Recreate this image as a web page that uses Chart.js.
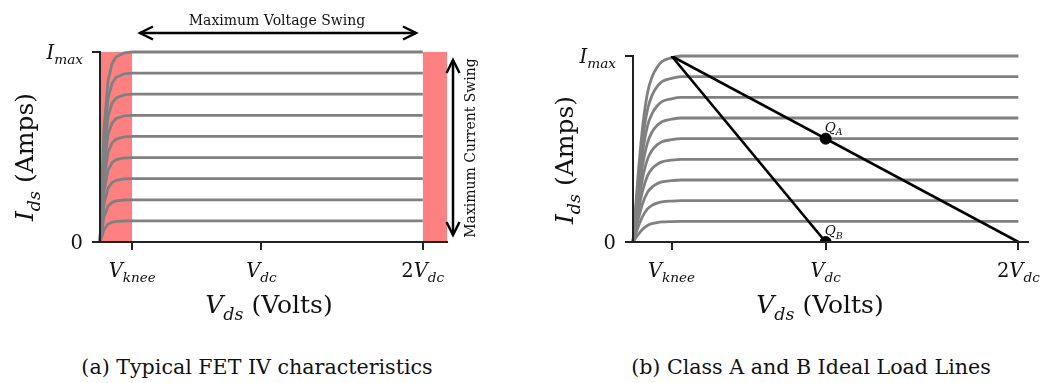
<!DOCTYPE html>
<html>
<head>
<meta charset="utf-8">
<script src="https://cdn.jsdelivr.net/npm/chart.js@4.4.1/dist/chart.umd.min.js"></script>
<style>
body{margin:0;background:#fff;width:1041px;height:383px;overflow:hidden;position:relative;}
.box{position:absolute;top:0;height:330px;}
#boxA{left:0;width:520px;}
#boxB{left:520px;width:521px;}
.cap{position:absolute;top:355px;font-family:'DejaVu Serif',serif;font-size:20.6px;color:#111;white-space:nowrap;transform:translateX(-50%);}
</style>
</head>
<body>
<div class="box" id="boxA"><canvas id="chartA"></canvas></div>
<div class="box" id="boxB"><canvas id="chartB"></canvas></div>
<div class="cap" style="left:257px">(a) Typical FET IV characteristics</div>
<div class="cap" style="left:811px">(b) Class A and B Ideal Load Lines</div>
<script>
// values in units of volts / amps steps (Vdc = 10, Imax = 9)
const ivLevels = [1, 2, 3, 4, 5, 6, 7, 8, 9];

// knee shape (fraction of the step current vs Vds)
const kneeVoltsA = [0, 0.25, 0.5, 0.75, 1, 1.5, 2, 20];
const kneeFracA  = [0, 0.6, 0.85, 0.94, 0.975, 0.995, 1, 1];
const kneeVoltsB = [0, 0.25, 0.5, 0.75, 1, 1.25, 1.5, 2, 2.5, 20];
const kneeFracB  = [0, 0.34, 0.62, 0.8, 0.89, 0.94, 0.97, 0.99, 1, 1];

const xTicks = [2, 10, 20];
const xTickLabels = [[['V','i'],['knee','s']], [['V','i'],['dc','s']], [['2','r'],['V','i'],['dc','s']]];
const yTicks = [0, 9];
const yTickLabels = [[['0','r']], [['I','i'],['max','s']]];

const lowBand = [0, 2];
const highBand = [20, 21.5];

const classA = [[2, 9], [20, 0]];
const classB = [[2, 9], [10, 0]];
const qA = [10, 5];
const qB = [10, 0];

const FONT = "'DejaVu Serif', serif";

function drawMath(ctx, parts, x, y, align, size){
    let pieces = parts.map(p => {
        let sub = p[1] === 's';
        let fs = sub ? size * 0.7 : size;
        let font = (p[1] === 'r' ? '' : 'italic ') + fs + 'px ' + FONT;
        ctx.font = font;
        return {t: p[0], font: font, w: ctx.measureText(p[0]).width, dy: sub ? size * 0.28 : 0};
    });
    let total = pieces.reduce((a, p) => a + p.w, 0);
    let sx = align === 'center' ? x - total / 2 : (align === 'right' ? x - total : x);
    ctx.textAlign = 'left';
    ctx.textBaseline = 'alphabetic';
    ctx.fillStyle = '#111';
    pieces.forEach(p => {
        ctx.font = p.font;
        ctx.fillText(p.t, sx, y + p.dy);
        sx += p.w;
    });
}

function ivDatasets(volts, frac, smooth){
    return ivLevels.map(lv => ({
        data: volts.map((v, i) => ({x: v, y: lv * frac[i]})),
        borderColor: '#808080',
        borderWidth: 2.8,
        pointRadius: 0,
        fill: false,
        tension: 0,
        clip: 4,
        cubicInterpolationMode: smooth ? 'monotone' : 'default'
    }));
}

function axisOpts(min, max, ticks){
    return {
        type: 'linear', min: min, max: max,
        afterBuildTicks: s => { s.ticks = ticks.map(v => ({value: v})); },
        ticks: {display: false},
        grid: {display: true, drawOnChartArea: false, drawTicks: true, tickLength: 8, color: '#222', lineWidth: 2, z: 1},
        border: {display: true, color: '#222', width: 2, z: 1}
    };
}

function labelsPlugin(o){
    return {
        id: 'labels' + o.id,
        afterDraw(chart){
            let ctx = chart.ctx;
            let xs = chart.scales.x, ys = chart.scales.y;
            let ca = chart.chartArea;
            ctx.save();
            xTicks.forEach((v, i) => {
                drawMath(ctx, xTickLabels[i], xs.getPixelForValue(v), ca.bottom + 35, 'center', 19.5);
            });
            yTicks.forEach((v, i) => {
                drawMath(ctx, yTickLabels[i], ca.left - 17, ys.getPixelForValue(v) + 7, 'right', 19.5);
            });
            drawMath(ctx, [['V','i'],['ds','s'],[' (Volts)','r']], o.xTitleX, ca.bottom + 71, 'center', 25);
            ctx.save();
            ctx.translate(o.yTitleX, o.yTitleY);
            ctx.rotate(-Math.PI / 2);
            drawMath(ctx, [['I','i'],['ds','s'],[' (Amps)','r']], 0, 0, 'center', 25);
            ctx.restore();
            if (o.extra) o.extra(chart, ctx);
            ctx.restore();
        }
    };
}

function arrow(ctx, x1, y1, x2, y2){
    let hl = 13, hw = 6.5;
    ctx.strokeStyle = '#000';
    ctx.lineWidth = 2.5;
    ctx.beginPath();
    ctx.moveTo(x1, y1);
    ctx.lineTo(x2, y2);
    ctx.stroke();
    [[x1, y1, x2, y2], [x2, y2, x1, y1]].forEach(a => {
        let ang = Math.atan2(a[1] - a[3], a[0] - a[2]);
        let c = Math.cos(ang), s = Math.sin(ang);
        ctx.beginPath();
        ctx.moveTo(a[0] - hl * c - hw * s, a[1] - hl * s + hw * c);
        ctx.lineTo(a[0], a[1]);
        ctx.lineTo(a[0] - hl * c + hw * s, a[1] - hl * s - hw * c);
        ctx.stroke();
    });
}

const baseOpts = {
    responsive: true,
    maintainAspectRatio: false,
    animation: false,
    events: [],
    plugins: {legend: {display: false}, tooltip: {enabled: false}}
};

// (a) typical FET IV characteristics
const bandStyle = {borderColor: 'rgba(0,0,0,0)', borderWidth: 0, pointRadius: 0, fill: 'origin', backgroundColor: '#ff8080'};
new Chart(document.getElementById('chartA'), {
    type: 'line',
    data: {
        datasets: ivDatasets(kneeVoltsA, kneeFracA, false).concat([
            Object.assign({data: lowBand.map(v => ({x: v, y: 9}))}, bandStyle),
            Object.assign({data: highBand.map(v => ({x: v, y: 9}))}, bandStyle)
        ])
    },
    options: Object.assign({}, baseOpts, {
        layout: {padding: {left: 92, top: 52, right: 73, bottom: 80}},
        scales: {x: axisOpts(0, 21.5, xTicks), y: axisOpts(0, 9, yTicks)}
    }),
    plugins: [labelsPlugin({
        id: 'A', xTitleX: 269, yTitleX: 33, yTitleY: 157,
        extra(chart, ctx){
            arrow(ctx, 140, 33, 416, 33);
            ctx.font = '14px ' + FONT;
            ctx.fillStyle = '#111';
            ctx.textAlign = 'center';
            ctx.textBaseline = 'alphabetic';
            ctx.fillText('Maximum Voltage Swing', 277, 25);
            arrow(ctx, 453, 60, 453, 235);
            ctx.save();
            ctx.translate(475, 148);
            ctx.rotate(-Math.PI / 2);
            ctx.fillText('Maximum Current Swing', 0, 0);
            ctx.restore();
        }
    })]
});

// (b) class A and B load lines
const loadStyle = {borderColor: '#000', borderWidth: 2.6, pointRadius: 0, fill: false, tension: 0};
const qStyle = {showLine: false, pointRadius: 5.5, pointBackgroundColor: '#000', pointBorderColor: '#000'};
new Chart(document.getElementById('chartB'), {
    type: 'line',
    data: {
        datasets: [
            Object.assign({data: [{x: qA[0], y: qA[1]}]}, qStyle),
            Object.assign({data: [{x: qB[0], y: qB[1]}], clip: {left: 10, top: 10, right: 10, bottom: -1}}, qStyle),
            Object.assign({data: classA.map(p => ({x: p[0], y: p[1]}))}, loadStyle),
            Object.assign({data: classB.map(p => ({x: p[0], y: p[1]}))}, loadStyle)
        ].concat(ivDatasets(kneeVoltsB, kneeFracB, true))
    },
    options: Object.assign({}, baseOpts, {
        layout: {padding: {left: 105, top: 56, right: 13, bottom: 80}},
        scales: {x: axisOpts(0, 20.5, xTicks), y: axisOpts(0, 9, yTicks)}
    }),
    plugins: [labelsPlugin({
        id: 'B', xTitleX: 300, yTitleX: 53, yTitleY: 160,
        extra(chart, ctx){
            let xs = chart.scales.x, ys = chart.scales.y;
            drawMath(ctx, [['Q','i'],['A','s']], xs.getPixelForValue(qA[0]) - 1, ys.getPixelForValue(qA[1]) - 7, 'left', 13.5);
            drawMath(ctx, [['Q','i'],['B','s']], xs.getPixelForValue(qB[0]) - 1, ys.getPixelForValue(qB[1]) - 7, 'left', 13.5);
        }
    })]
});
</script>
</body>
</html>
